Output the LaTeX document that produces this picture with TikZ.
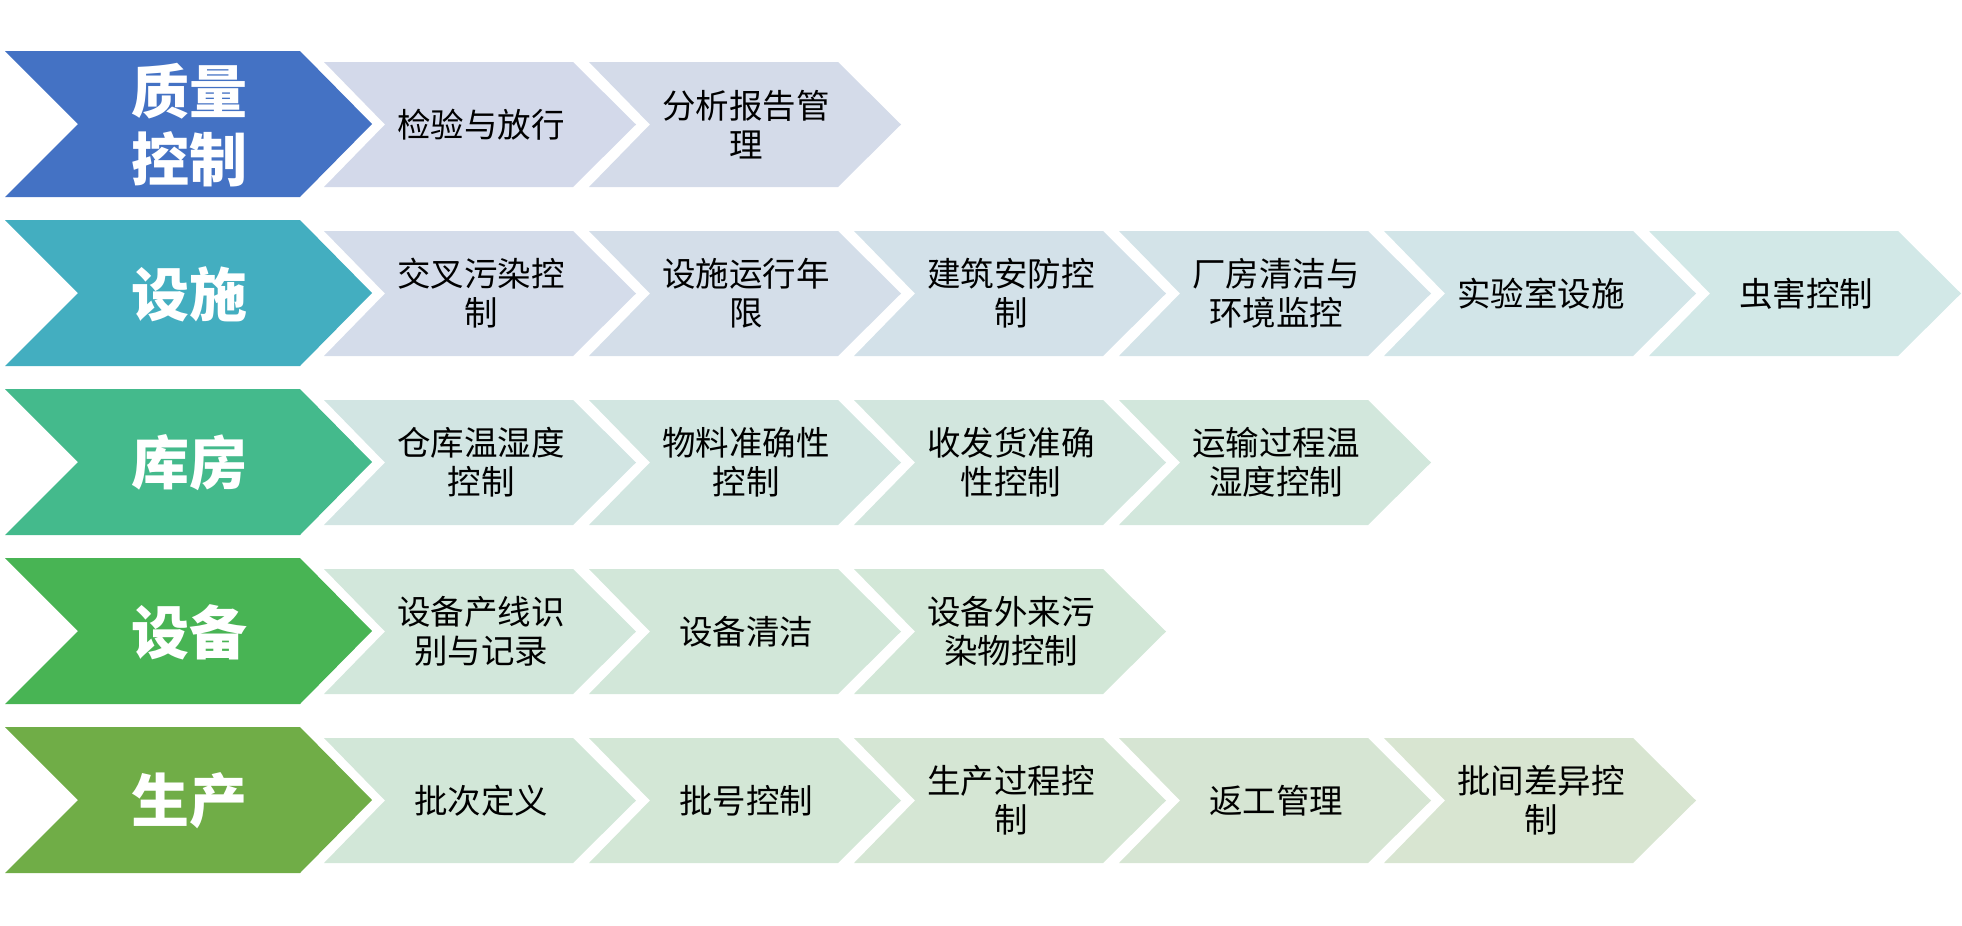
\documentclass[tikz,border=0pt]{standalone}
\usepackage{fontspec}
\newfontfamily\cjk{Noto Sans CJK SC}
\definecolor{zhiliang}{HTML}{4472C4}
\definecolor{sheshi}{HTML}{43AEC0}
\definecolor{kufang}{HTML}{44BA8C}
\definecolor{shebei}{HTML}{48B454}
\definecolor{shengchan}{HTML}{70AD47}
\definecolor{zla}{HTML}{D3D9EA}\definecolor{zlb}{HTML}{D4DBE9}
\definecolor{ssa}{HTML}{D4DCEA}\definecolor{ssb}{HTML}{D2E8E7}
\definecolor{kfa}{HTML}{D2E5E3}\definecolor{kfb}{HTML}{D2E7DC}
\definecolor{sba}{HTML}{D2E7DB}\definecolor{sbb}{HTML}{D2E7D7}
\definecolor{sca}{HTML}{D2E7D8}\definecolor{scb}{HTML}{D8E5D1}

\begin{document}
\begin{tikzpicture}[x=1pt,y=-1pt,
	bigtext/.style={text=white, align=center, inner sep=0pt, font=\cjk\bfseries\fontsize{58}{68}\selectfont},
	smalltext/.style={text=black, align=center, inner sep=0pt, font=\cjk\fontsize{33.5}{39}\selectfont}]
	\useasboundingbox (0,0) rectangle (1962,926);
	% big chevrons, one per row
	\foreach \r/\col/\name/\txt in {1/zhiliang/zl/{质量\\控制},2/sheshi/ss/{设施},3/kufang/kf/{库房},4/shebei/sb/{设备},5/shengchan/sc/{生产}}{
		\pgfmathsetmacro\t{51+169*(\r-1)}
		\fill[\col] (5,\t) -- (300,\t) -- (372,\t+73) -- (300,\t+146) -- (5,\t+146) -- (78,\t+73) -- cycle;
		\node[bigtext] (\name) at (189,\t+74) {\txt};
	}
	% small chevrons
	\foreach \r/\name/\n/\items in {
		1/zl/2/{{检验与放行},{分析报告管\\理}},
		2/ss/6/{{交叉污染控\\制},{设施运行年\\限},{建筑安防控\\制},{厂房清洁与\\环境监控},{实验室设施},{虫害控制}},
		3/kf/4/{{仓库温湿度\\控制},{物料准确性\\控制},{收发货准确\\性控制},{运输过程温\\湿度控制}},
		4/sb/3/{{设备产线识\\别与记录},{设备清洁},{设备外来污\\染物控制}},
		5/sc/5/{{批次定义},{批号控制},{生产过程控\\制},{返工管理},{批间差异控\\制}}}{
		\pgfmathsetmacro\t{62+169*(\r-1)}
		\foreach \txt [count=\c] in \items {
			\pgfmathsetmacro\xa{324+265*(\c-1)}
			\pgfmathtruncatemacro\pct{100-100*(\c-1)/(\n-1)}
			\fill[\name a!\pct!\name b] (\xa,\t) -- (\xa+249,\t) -- (\xa+312,\t+62.5) -- (\xa+249,\t+125) -- (\xa,\t+125) -- (\xa+61,\t+62.5) -- cycle;
			\node[smalltext] (\name-\c) at (\xa+157,\t+62.5) {\txt};
		}
	}
\end{tikzpicture}
\end{document}
